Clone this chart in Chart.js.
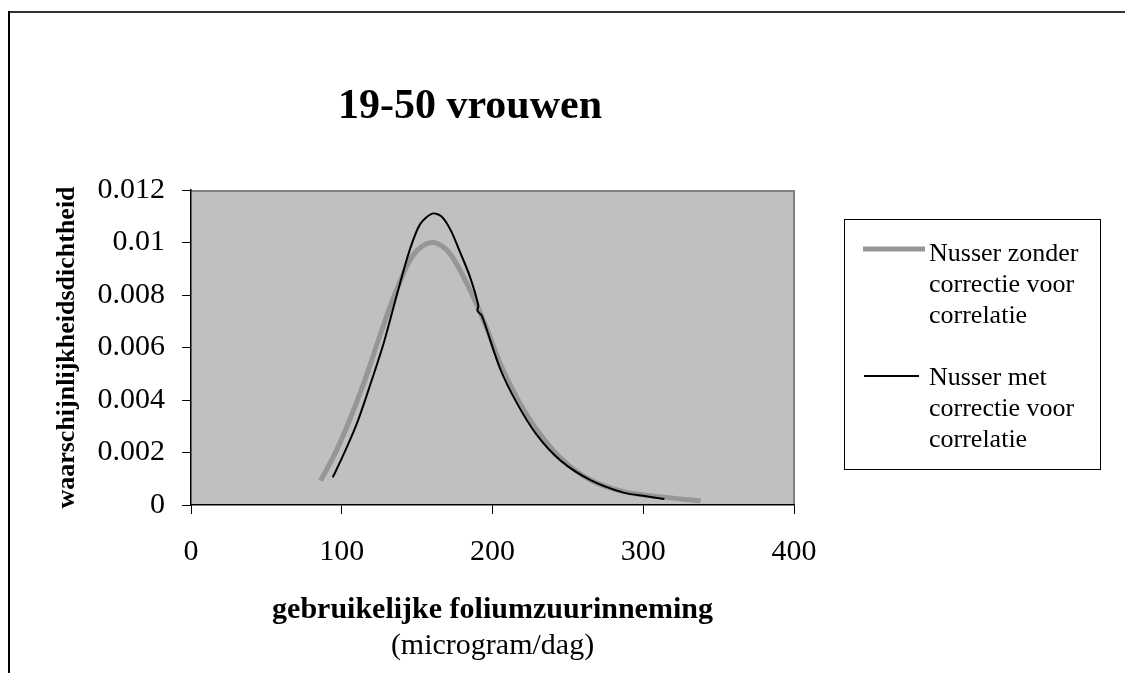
<!DOCTYPE html>
<html>
<head>
<meta charset="utf-8">
<script src="https://cdn.jsdelivr.net/npm/chart.js@4"></script>
<style>
  html, body { margin: 0; padding: 0; background: #fff; }
  canvas { display: block; }
</style>
</head>
<body>
<canvas id="chart" width="1125" height="673"></canvas>
<script>
// inname (microgram/dag) en dichtheid, zonder correctie
const intakeZonder = [86, 95, 105, 115, 125, 135, 145, 152, 160, 168, 175, 185, 195, 205, 216, 229, 245, 265, 287, 315, 338];
const densityZonder = [0.00093, 0.0019, 0.0032, 0.0047, 0.0064, 0.0080, 0.0093, 0.0098, 0.0100, 0.0098, 0.0093, 0.0082, 0.0069, 0.0054, 0.0041, 0.0029, 0.0018, 0.00095, 0.00051, 0.00029, 0.00016];

// inname en dichtheid, met correctie
const intakeMet = [94, 101, 110, 119, 128, 137, 145, 152, 160, 166, 172, 178, 185, 190.6, 190, 193, 205, 216, 229, 245, 265, 287, 300, 314];
const densityMet = [0.00105, 0.0019, 0.0031, 0.0046, 0.0062, 0.0081, 0.0097, 0.0107, 0.0111, 0.0110, 0.0105, 0.0097, 0.0087, 0.0076, 0.0074, 0.0072, 0.0052, 0.0039, 0.0027, 0.0017, 0.00095, 0.00047, 0.00035, 0.00023];

const yTickLabels = ['0', '0.002', '0.004', '0.006', '0.008', '0.01', '0.012'];
const xTickLabels = ['0', '100', '200', '300', '400'];

const seriesNames = ['Nusser zonder correctie voor correlatie', 'Nusser met correctie voor correlatie'];
const legendLinesZonder = ['Nusser zonder', 'correctie voor', 'correlatie'];
const legendLinesMet = ['Nusser met', 'correctie voor', 'correlatie'];

const chartTitle = '19-50 vrouwen';
const xTitle = 'gebruikelijke foliumzuurinneming';
const xSubTitle = '(microgram/dag)';
const yTitle = 'waarschijnlijkheidsdichtheid';

const SERIF = "'Liberation Serif', 'Times New Roman', serif";

function toPoints(xs, ys) {
    return xs.map((x, i) => ({ x: x, y: ys[i] }));
}

const decor = {
    id: 'decor',
    beforeDraw(chart) {
        const { ctx, chartArea: a } = chart;
        ctx.save();
        ctx.fillStyle = '#fff';
        ctx.fillRect(0, 0, chart.width, chart.height);
        // outer frame, only top and left visible
        ctx.fillStyle = '#333';
        ctx.fillRect(9, 11, chart.width - 9, 2);
        ctx.fillStyle = '#000';
        ctx.fillRect(8, 11, 2, chart.height - 11);
        // plot area
        ctx.fillStyle = '#c0c0c0';
        ctx.fillRect(a.left, a.top, a.right - a.left, a.bottom - a.top);
        ctx.fillStyle = '#808080';
        ctx.fillRect(a.left, a.top, a.right - a.left + 1, 2);
        ctx.fillRect(a.right - 1, a.top, 2, a.bottom - a.top);
        ctx.restore();
    },
    afterDraw(chart) {
        const { ctx, chartArea: a } = chart;
        const ds = chart.data.datasets;
        ctx.save();
        ctx.fillStyle = '#000';

        // title
        ctx.font = 'bold 42px ' + SERIF;
        ctx.textAlign = 'center';
        ctx.textBaseline = 'alphabetic';
        ctx.fillText(chartTitle, 470, 118);

        // second line under the x axis title
        ctx.font = '30px ' + SERIF;
        ctx.textBaseline = 'middle';
        ctx.fillText(xSubTitle, (a.left + a.right) / 2, 646);

        // legend
        const box = { x: 844, y: 219, w: 256, h: 250 };
        ctx.fillStyle = '#fff';
        ctx.fillRect(box.x, box.y, box.w, box.h);
        ctx.strokeStyle = '#000';
        ctx.lineWidth = 1;
        ctx.strokeRect(box.x + 0.5, box.y + 0.5, box.w, box.h);

        const items = [
            { lines: legendLinesZonder, ds: ds[0], lineY: 249, x1: 863, x2: 925, base: 261 },
            { lines: legendLinesMet, ds: ds[1], lineY: 376, x1: 864, x2: 919, base: 385 }
        ];
        ctx.font = '26px ' + SERIF;
        ctx.textAlign = 'left';
        ctx.textBaseline = 'alphabetic';
        items.forEach(it => {
            ctx.strokeStyle = it.ds.borderColor;
            ctx.lineWidth = it.ds.borderWidth;
            ctx.beginPath();
            ctx.moveTo(it.x1, it.lineY);
            ctx.lineTo(it.x2, it.lineY);
            ctx.stroke();
            ctx.fillStyle = '#000';
            it.lines.forEach((t, i) => ctx.fillText(t, 929, it.base + i * 31));
        });
        ctx.restore();
    }
};

new Chart(document.getElementById('chart'), {
    type: 'scatter',
    data: {
        datasets: [{
            label: seriesNames[0],
            data: toPoints(intakeZonder, densityZonder),
            showLine: true,
            borderColor: '#969696',
            borderWidth: 5,
            borderCapStyle: 'butt',
            pointRadius: 0,
            tension: 0.35,
            order: 1
        }, {
            label: seriesNames[1],
            data: toPoints(intakeMet, densityMet),
            showLine: true,
            borderColor: '#000',
            borderWidth: 2,
            pointRadius: 0,
            tension: 0.3,
            order: 0
        }]
    },
    options: {
        responsive: false,
        animation: false,
        devicePixelRatio: 1,
        layout: {
            padding: { left: 0, right: 331, top: 190, bottom: 0 }
        },
        plugins: {
            legend: { display: false },
            tooltip: { enabled: false }
        },
        scales: {
            x: {
                type: 'linear',
                min: 0,
                max: 400,
                afterFit: s => { s.height = 168; },
                afterBuildTicks: s => { s.ticks = xTickLabels.map(t => ({ value: Number(t) })); },
                ticks: {
                    callback: (v, i) => xTickLabels[i],
                    font: { family: SERIF, size: 30 },
                    color: '#000',
                    padding: 20,
                    maxRotation: 0
                },
                grid: {
                    drawOnChartArea: false,
                    drawTicks: true,
                    tickLength: 9,
                    tickColor: '#000'
                },
                border: { display: true, color: '#000', width: 1.5 },
                title: {
                    display: true,
                    text: xTitle,
                    font: { family: SERIF, size: 30, weight: 'bold' },
                    color: '#000',
                    padding: { top: 0, bottom: 45 }
                }
            },
            y: {
                type: 'linear',
                min: 0,
                max: 0.012,
                afterFit: s => { s.width = 191; },
                afterBuildTicks: s => { s.ticks = yTickLabels.map(t => ({ value: Number(t) })); },
                ticks: {
                    callback: (v, i) => yTickLabels[i],
                    font: { family: SERIF, size: 30 },
                    color: '#000',
                    padding: 17
                },
                grid: {
                    drawOnChartArea: false,
                    drawTicks: true,
                    tickLength: 9,
                    tickColor: '#000'
                },
                border: { display: true, color: '#000', width: 1.5 },
                title: {
                    display: true,
                    text: yTitle,
                    font: { family: SERIF, size: 26, weight: 'bold' },
                    color: '#000',
                    padding: { top: 52, bottom: 0 }
                }
            }
        }
    },
    plugins: [decor]
});
</script>
</body>
</html>
